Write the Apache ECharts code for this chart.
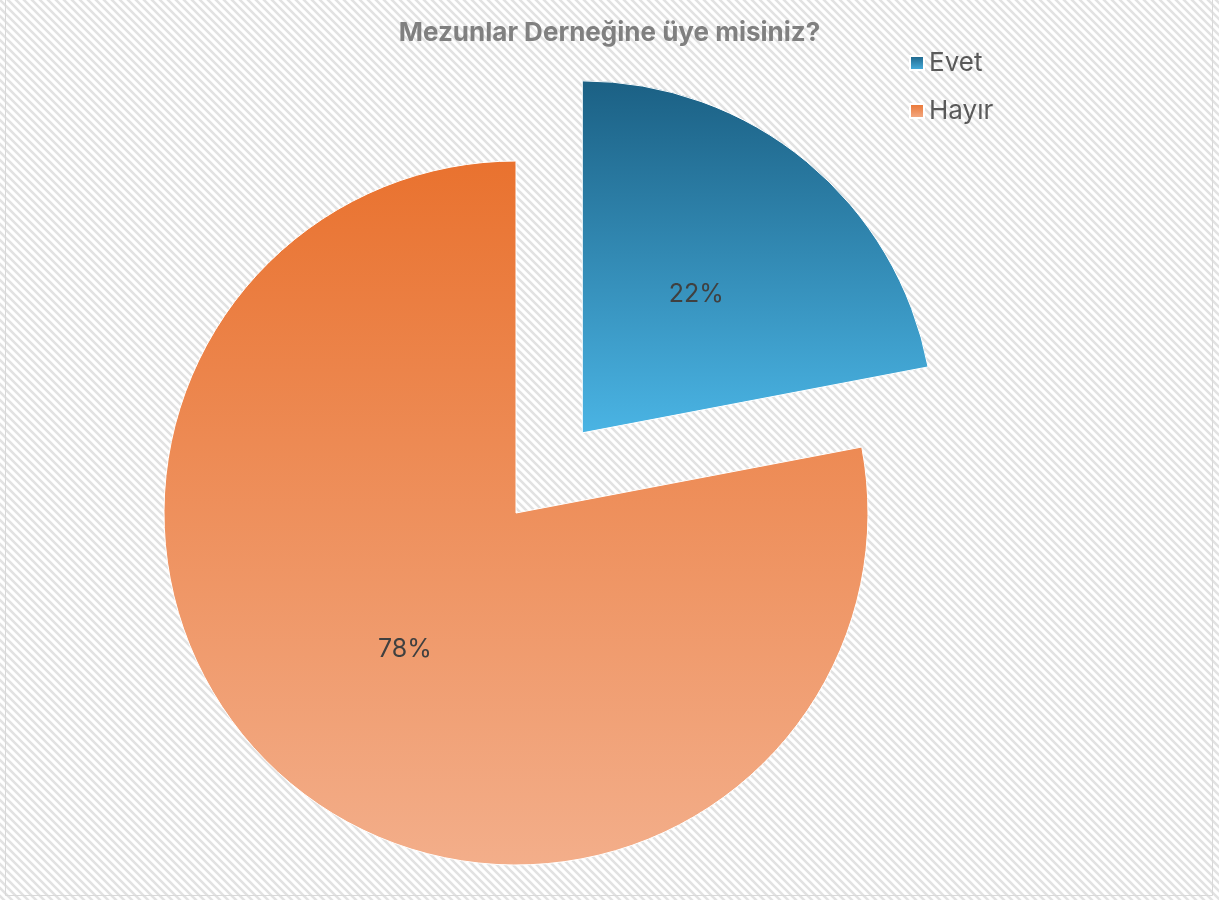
<!DOCTYPE html>
<html>
<head>
<meta charset="utf-8">
<script src="https://cdn.jsdelivr.net/npm/echarts@6/dist/echarts.min.js"></script>
<style>
html,body{margin:0;padding:0;background:#fff;}
#chart{width:1219px;height:900px;}
</style>
</head>
<body>
<div id="chart"></div>
<script>
const titleText = 'Mezunlar Derneğine üye misiniz?';
const categories = ['Evet', 'Hayır'];
const values = [22, 78];
const selectedFlags = [true, false];

const gradients = [
  ['#1b6084', '#4ab4e4'],
  ['#e9722f', '#f3ae8a']
];
const labelOffsets = [[-2, 8], [3, -1]];

// hatch pattern tile
const P = 8;
const tile = document.createElement('canvas');
tile.width = P; tile.height = P;
const tc = tile.getContext('2d');
tc.fillStyle = '#ffffff';
tc.fillRect(0, 0, P, P);
tc.strokeStyle = '#e2e2e2';
tc.lineWidth = 2.6;
tc.beginPath();
tc.moveTo(-1, -1); tc.lineTo(P + 1, P + 1);
tc.moveTo(-P - 1, -1); tc.lineTo(1, P + 1);
tc.moveTo(P - 1, -1); tc.lineTo(2 * P + 1, P + 1);
tc.stroke();

const chart = echarts.init(document.getElementById('chart'), null, {renderer: 'canvas'});
const data = categories.map((c, i) => ({
  name: c,
  value: values[i],
  selected: selectedFlags[i],
  label: {offset: labelOffsets[i]},
  itemStyle: {
    color: new echarts.graphic.LinearGradient(0, 0, 0, 1, [
      {offset: 0, color: gradients[i][0]},
      {offset: 1, color: gradients[i][1]}
    ])
  }
}));

chart.setOption({
  animation: false,
  backgroundColor: {image: tile, repeat: 'repeat'},
  title: {
    text: titleText,
    left: 'center',
    top: 15,
    textStyle: {fontFamily: 'Inter', fontSize: 26, fontWeight: 'bold', color: '#808080'}
  },
  legend: {
    orient: 'vertical',
    left: 904,
    top: 45,
    icon: 'rect',
    itemWidth: 14,
    itemHeight: 14,
    itemGap: 22,
    selectedMode: false,
    textStyle: {fontFamily: 'Inter', fontSize: 26, color: '#595959'},
    data: categories
  },
  graphic: [{
    type: 'rect',
    shape: {x: 5.5, y: -2, width: 1207, height: 897.5},
    style: {fill: 'none', stroke: '#d9d9d9', lineWidth: 1},
    silent: true
  }],
  series: [{
    type: 'pie',
    center: [516, 513],
    radius: [0, 352],
    startAngle: 90,
    clockwise: true,
    selectedMode: 'single',
    selectedOffset: 104,
    avoidLabelOverlap: false,
    itemStyle: {borderColor: '#ffffff', borderWidth: 1},
    label: {
      show: true,
      position: 'inside',
      formatter: '{d}%',
      fontFamily: 'Inter',
      fontSize: 25,
      color: '#404040'
    },
    labelLine: {show: false},
    emphasis: {scale: false},
    data: data
  }]
});
</script>
</body>
</html>
